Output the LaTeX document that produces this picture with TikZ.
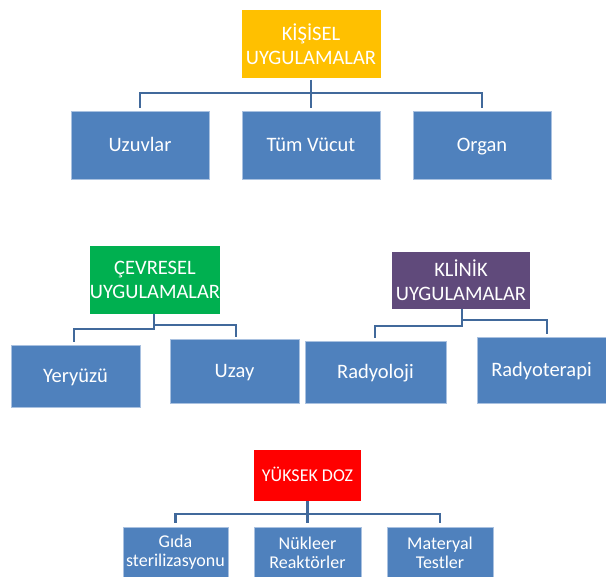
\documentclass[tikz,border=0pt]{standalone}
\usepackage{fontspec}
\setmainfont{Carlito}
\definecolor{boxblue}{HTML}{4F81BD}
\definecolor{boxedge}{HTML}{A9C1E0}
\definecolor{connblue}{HTML}{41699B}
\definecolor{kyellow}{HTML}{FFC000}
\definecolor{cgreen}{HTML}{00B050}
\definecolor{kpurple}{HTML}{604A7B}
\definecolor{yred}{HTML}{FF0000}
\tikzset{
  basebox/.style={rectangle, inner sep=0pt, outer sep=0pt, text=white, align=center,
    font=\fontsize{20.5}{24}\selectfont},
  childbox/.style={basebox, fill=boxblue, draw=boxedge, line width=0.8pt},
  headbox/.style={basebox, fill=#1},
  smallfont/.style={font=\fontsize{18}{19}\selectfont},
  oneline/.style={text height=13pt, text depth=0pt},
  onelinesmall/.style={text height=11.6pt, text depth=0pt},
  conn/.style={draw=connblue, line width=2.1pt}
}
\begin{document}
\begin{tikzpicture}[x=1pt,y=-1pt]
\useasboundingbox (0,0) rectangle (606,577);
\clip (0,0) rectangle (606,577);
% --- top group
\node[headbox=kyellow, minimum width=139pt, minimum height=68pt] (kisisel) at (311,44) {KİŞİSEL\\UYGULAMALAR};
\node[childbox, oneline, minimum width=138pt, minimum height=68pt] (uzuvlar) at (140,145) {Uzuvlar};
\node[childbox, oneline, minimum width=138pt, minimum height=68pt] (tum) at (311,145) {Tüm Vücut};
\node[childbox, oneline, minimum width=138pt, minimum height=68pt] (organ) at (482,145) {Organ};
\coordinate (kbar) at (311,93);
\draw[conn] ([yshift=3pt]uzuvlar.north) |- (kbar) -| ([yshift=3pt]organ.north);
\draw[conn] ([yshift=-2pt]kisisel.south) -- ([yshift=3pt]tum.north);
% --- middle left group
\node[headbox=cgreen, minimum width=128pt, minimum height=68pt] (cevre) at (155,280) {ÇEVRESEL\\UYGULAMALAR};
\node[childbox, oneline, minimum width=129pt, minimum height=62pt] (yer) at (75.5,376) {Yeryüzü};
\node[childbox, oneline, minimum width=129pt, minimum height=64pt] (uzay) at (234.5,371) {Uzay};
\coordinate (cL) at (154,329);
\coordinate (cR) at (154,325);
\draw[conn] ([xshift=-1.5pt,yshift=3pt]yer.north) |- (cL) -- ([xshift=-1pt]cevre.south);
\draw[conn] ([xshift=1.5pt,yshift=2pt]uzay.north) |- (cR);
% --- middle right group
\node[headbox=kpurple, minimum width=138pt, minimum height=57pt] (klinik) at (461,280.5) {KLİNİK\\UYGULAMALAR};
\node[childbox, oneline, minimum width=141pt, minimum height=62pt] (rady) at (375.5,372) {Radyoloji};
\node[childbox, oneline, minimum width=129pt, minimum height=66pt] (radt) at (541.5,370) {Radyoterapi};
\coordinate (kL) at (462,326);
\coordinate (kR) at (462,320);
\draw[conn] ([xshift=-0.5pt,yshift=3pt]rady.north) |- (kL) -- ([xshift=1pt]klinik.south);
\draw[conn] ([xshift=5.5pt,yshift=3pt]radt.north) |- (kR);
% --- bottom group
\node[headbox=yred, smallfont, onelinesmall, minimum width=107pt, minimum height=51pt] (yuksek) at (307.5,475.5) {YÜKSEK DOZ};
\node[childbox, smallfont, minimum width=105pt, minimum height=51pt] (gida) at (175.5,552.5) {Gıda\\sterilizasyonu};
\node[childbox, smallfont, minimum width=107pt, minimum height=51pt] (nukleer) at (307.5,552.5) {Nükleer\\Reaktörler};
\node[childbox, smallfont, minimum width=106pt, minimum height=51pt] (mater) at (440,552.5) {Materyal\\Testler};
\coordinate (ybar) at (307.5,514);
\draw[conn] ([yshift=4pt]gida.north) |- (ybar) -| ([yshift=4pt]mater.north);
\draw[conn] (yuksek.south) -- ([yshift=4pt]nukleer.north);
\end{tikzpicture}
\end{document}
